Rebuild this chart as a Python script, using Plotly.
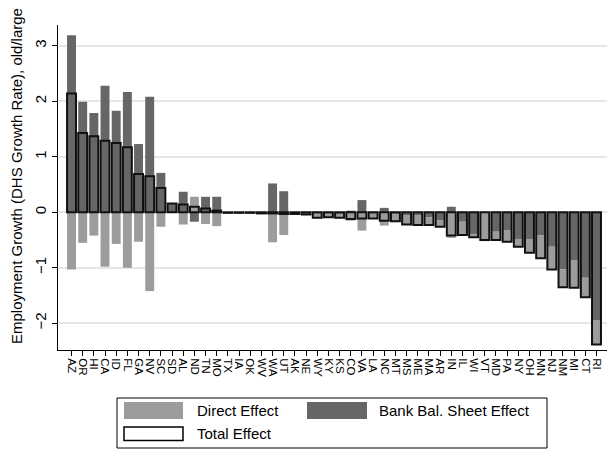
import plotly.graph_objects as go

states = ["AZ","OR","HI","CA","ID","FL","GA","NV","SC","SD","AL","ND","TN","MO","TX","IA","OK","WV",
          "WA","UT","AK","NE","WY","KY","KS","CO","VA","LA","NC","MT","MS","ME","MA","AR","IN","IL",
          "WI","VT","MD","PA","NY","OH","MN","NJ","NM","MI","CT","RI"]

bank_effect = [3.19,1.99,1.79,2.28,1.83,2.17,1.23,2.08,0.71,0.16,0.37,-0.17,0.28,0.28,0.00,0.00,0.00,0.00,
               0.52,0.38,0.00,0.00,-0.02,-0.02,-0.03,0.03,0.22,-0.02,0.08,-0.04,-0.06,-0.06,-0.09,-0.14,0.10,-0.17,
               -0.39,-0.01,-0.35,-0.32,-0.48,-0.48,-0.42,-0.62,-1.03,-0.87,-1.18,-1.94]

direct_effect = [-1.03,-0.55,-0.42,-0.98,-0.57,-1.00,-0.53,-1.42,-0.26,0.00,-0.22,0.28,-0.21,-0.25,-0.01,-0.01,-0.01,-0.02,
                 -0.54,-0.41,-0.03,-0.04,-0.08,-0.07,-0.07,-0.15,-0.33,-0.09,-0.24,-0.12,-0.16,-0.17,-0.14,-0.12,-0.46,-0.24,
                 -0.06,-0.51,-0.15,-0.21,-0.14,-0.25,-0.41,-0.41,-0.32,-0.49,-0.35,-0.44]

total_effect = [2.14,1.43,1.37,1.29,1.25,1.17,0.69,0.65,0.44,0.16,0.14,0.10,0.07,0.03,-0.01,-0.01,-0.01,-0.02,
                -0.02,-0.03,-0.03,-0.04,-0.10,-0.09,-0.10,-0.12,-0.11,-0.11,-0.15,-0.16,-0.22,-0.23,-0.23,-0.26,-0.42,-0.41,
                -0.45,-0.50,-0.50,-0.53,-0.62,-0.73,-0.83,-1.03,-1.35,-1.36,-1.53,-2.38]

y_ticks = [-2, -1, 0, 1, 2, 3]

DARK = "#666666"
LIGHT = "#9c9c9c"
FONT = "Liberation Sans, Arial, sans-serif"

W, H = 613, 455
L, R, T, B = 58, 6, 25, 105
PW, PH = W - L - R, H - T - B

def px(x):
    return (x - L) / PW

def py(y):
    return (T + PH - y) / PH

fig = go.Figure()
fig.add_trace(go.Bar(x=states, y=bank_effect, name="Bank Bal. Sheet Effect",
                     marker=dict(color=DARK, line=dict(width=0)), width=0.8, showlegend=False))
fig.add_trace(go.Bar(x=states, y=direct_effect, name="Direct Effect",
                     marker=dict(color=LIGHT, line=dict(width=0)), width=0.8, showlegend=False))
fig.add_trace(go.Bar(x=states, y=total_effect, name="Total Effect", xaxis="x2",
                     marker=dict(color="rgba(0,0,0,0)", line=dict(color="#111111", width=2)),
                     width=0.8, showlegend=False))

fig.update_layout(
    width=W, height=H,
    margin=dict(l=L, r=R, t=T, b=B),
    barmode="relative",
    paper_bgcolor="white", plot_bgcolor="white",
    font=dict(family=FONT, color="black"),
    xaxis=dict(type="category", categoryorder="array", categoryarray=states,
               tickmode="array", tickvals=states, ticktext=states,
               range=[-1.21, 47.94], showline=True, linecolor="black", linewidth=1,
               ticks="outside", ticklen=5, tickcolor="black", tickangle=90,
               tickfont=dict(size=11.5, family=FONT), showgrid=False, zeroline=False),
    xaxis2=dict(type="category", categoryorder="array", categoryarray=states,
                overlaying="x", matches="x", visible=False),
    yaxis=dict(range=[-2.481, 3.375], tickvals=y_ticks, showline=True, linecolor="black",
               linewidth=1, ticks="outside", ticklen=5, tickcolor="black", tickangle=-90,
               tickfont=dict(size=15, family=FONT), showgrid=True, gridcolor="#e6e6e6",
               gridwidth=1.5, zeroline=False),
)

# y-axis title
fig.add_annotation(text="Employment Growth (DHS Growth Rate), old/large", xref="paper", yref="paper",
                   x=px(16), y=py(176), textangle=-90, showarrow=False,
                   font=dict(size=15, family=FONT, color="black"), xanchor="center", yanchor="middle")

# legend box
fig.add_shape(type="rect", xref="paper", yref="paper", x0=px(117), x1=px(547), y0=py(448), y1=py(398),
              line=dict(color="black", width=1), fillcolor="white", layer="above")
fig.add_shape(type="rect", xref="paper", yref="paper", x0=px(124), x1=px(183), y0=py(419), y1=py(402),
              line=dict(width=0), fillcolor=LIGHT, layer="above")
fig.add_shape(type="rect", xref="paper", yref="paper", x0=px(307), x1=px(367), y0=py(419), y1=py(402),
              line=dict(width=0), fillcolor=DARK, layer="above")
fig.add_shape(type="rect", xref="paper", yref="paper", x0=px(124), x1=px(183), y0=py(440.5), y1=py(427),
              line=dict(color="black", width=1.5), fillcolor="white", layer="above")
for txt, xx, yy in [("Direct Effect", 195, 411), ("Bank Bal. Sheet Effect", 377, 411), ("Total Effect", 195, 433.5)]:
    fig.add_annotation(text=txt, xref="paper", yref="paper", x=px(xx), y=py(yy), showarrow=False,
                       xanchor="left", yanchor="middle", font=dict(size=15, family=FONT, color="black"))

fig.write_html("out.html")
